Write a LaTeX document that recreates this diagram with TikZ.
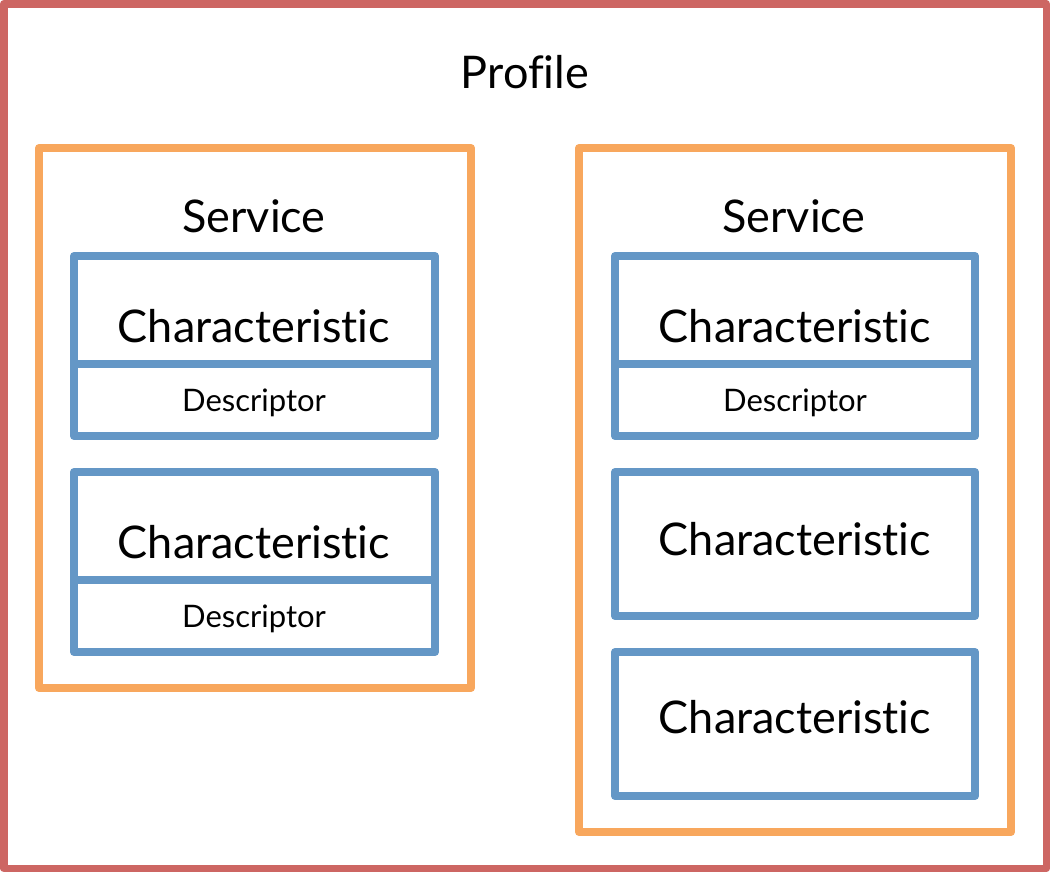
\documentclass[tikz,border=0pt]{standalone}
\usepackage{fontspec}
\setmainfont{Lato}[Ligatures={NoCommon,NoRare,NoDiscretionary}]
\definecolor{profred}{RGB}{205,102,99}
\definecolor{servorange}{RGB}{248,167,93}
\definecolor{charblue}{RGB}{100,151,198}
\begin{document}
\begin{tikzpicture}[x=1bp,y=-1bp,
  profbox/.style={draw=profred,line width=7.5bp,line join=round},
  servbox/.style={draw=servorange,line width=8bp,line join=round},
  charbox/.style={draw=charblue,line width=8bp,line join=round},
  bigtxt/.style={inner sep=0pt,anchor=base,font=\fontsize{45bp}{50bp}\selectfont},
  smalltxt/.style={inner sep=0pt,anchor=base,font=\fontsize{31bp}{36bp}\selectfont}]
\useasboundingbox (0,0) rectangle (1050,872);
% profile
\draw[profbox] (3.75,3.75) rectangle (1046.25,868.25);
\node[bigtxt] (profile) at (525,88) {Profile};
% left service
\draw[servbox] (39,148) rectangle (471,688);
\node[bigtxt] (serviceL) at (254,232) {Service};
\draw[charbox] (74,256) rectangle (435,436);
\draw[charbox] (74,364) -- (435,364);
\node[bigtxt] (charL1) at (254,342) {Characteristic};
\node[smalltxt] (descL1) at (254,411) {Descriptor};
\draw[charbox] (74,472) rectangle (435,652);
\draw[charbox] (74,580) -- (435,580);
\node[bigtxt] (charL2) at (254,558) {Characteristic};
\node[smalltxt] (descL2) at (254,627) {Descriptor};
% right service
\draw[servbox] (579,148) rectangle (1011,832);
\node[bigtxt] (serviceR) at (794,232) {Service};
\draw[charbox] (615,256) rectangle (975,436);
\draw[charbox] (615,364) -- (975,364);
\node[bigtxt] (charR1) at (795,342) {Characteristic};
\node[smalltxt] (descR1) at (795,411) {Descriptor};
\draw[charbox] (615,472) rectangle (975,616);
\node[bigtxt] (charR2) at (795,555) {Characteristic};
\draw[charbox] (615,652) rectangle (975,796);
\node[bigtxt] (charR3) at (795,733) {Characteristic};
\end{tikzpicture}
\end{document}
